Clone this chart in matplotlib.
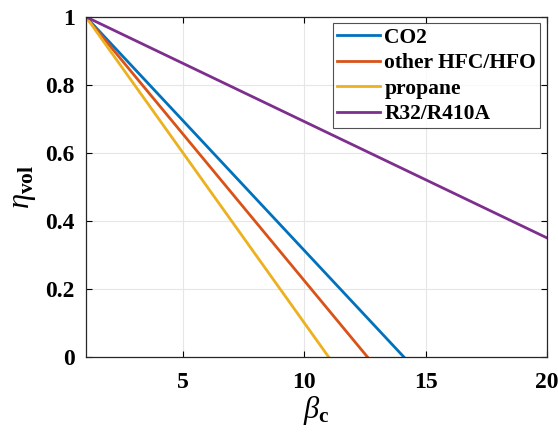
import matplotlib
matplotlib.use('Agg')
import matplotlib.pyplot as plt

# curve end points (straight lines)
beta_co2 = [1, 14.1]
eta_co2 = [1, 0]
beta_hfc = [1, 12.6]
eta_hfc = [1, 0]
beta_propane = [1, 11.0]
eta_propane = [1, 0]
beta_r32 = [1, 20]
eta_r32 = [1, 0.35]

labels = ['CO2', 'other HFC/HFO', 'propane', 'R32/R410A']
colors = ['#0072BD', '#D95319', '#EDB120', '#7E2F8E']

plt.rcParams['font.family'] = ['Liberation Serif', 'DejaVu Serif']
plt.rcParams['font.weight'] = 'bold'
plt.rcParams['mathtext.fontset'] = 'custom'
plt.rcParams['mathtext.rm'] = 'Liberation Serif:bold'
plt.rcParams['mathtext.bf'] = 'Liberation Serif:bold'
plt.rcParams['mathtext.it'] = 'Liberation Serif:italic:normal'

fig = plt.figure(figsize=(5.58, 4.32), dpi=100)
ax = fig.add_axes([0.154, 0.174, 0.826, 0.787])

series = [(beta_co2, eta_co2), (beta_hfc, eta_hfc),
          (beta_propane, eta_propane), (beta_r32, eta_r32)]
for (b, e), lab, c in zip(series, labels, colors):
    ax.plot(b, e, color=c, lw=2.0, label=lab)

ax.set_xlim(1, 20)
ax.set_ylim(0, 1)
ax.set_xticks([5, 10, 15, 20])
ax.set_yticks([0, 0.2, 0.4, 0.6, 0.8, 1])
ax.set_yticklabels(['0', '0.2', '0.4', '0.6', '0.8', '1'])
ax.grid(True, color='#e6e6e6', lw=0.8)
ax.set_axisbelow(True)
ax.tick_params(direction='in', length=4, width=0.8, labelsize=17,
               top=True, right=True)
ax.tick_params(axis='x', pad=11)
ax.tick_params(axis='y', pad=8)
for s in ax.spines.values():
    s.set_linewidth(0.9)
    s.set_color('#262626')

ax.set_xlabel(r'$\beta_{\mathbf{c}}$', fontsize=22, labelpad=1)
ax.set_ylabel(r'$\eta_{\mathbf{vol}}$', fontsize=22, labelpad=5)

leg = ax.legend(loc='upper right', fontsize=15.5, frameon=True, fancybox=False,
                edgecolor='#262626', borderaxespad=0.3, handlelength=2.0,
                handletextpad=0.2, labelspacing=0.25, borderpad=0.2)
leg.get_frame().set_linewidth(0.8)

fig.savefig('out.png', dpi=100)
